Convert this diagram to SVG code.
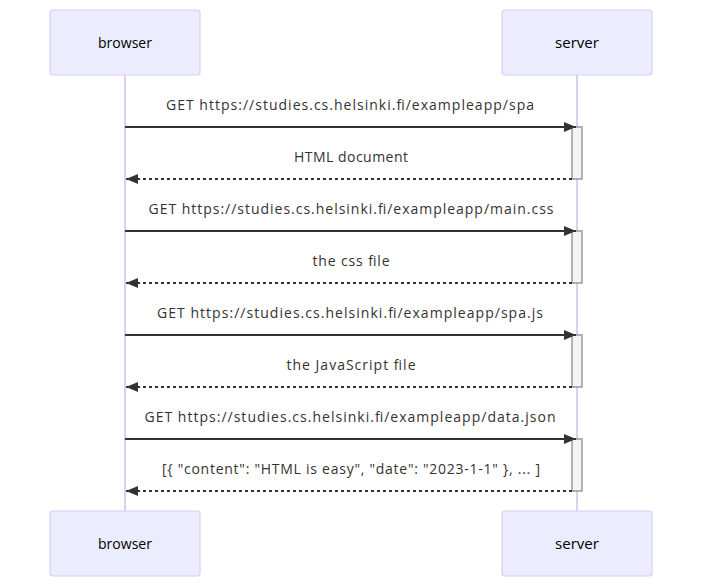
<svg xmlns="http://www.w3.org/2000/svg" width="702" height="587" viewBox="0 0 702 587">
<style>
.actor{fill:#ECECFF;stroke:#DACEF3;stroke-width:1.2}
.atext{font-family:"Open Sans","Noto Sans",sans-serif;font-size:14px;fill:#000;text-anchor:middle}
.life{stroke:#DACEF3;stroke-width:2;fill:none}
.act{fill:#F4F4F4;stroke:#999;stroke-width:1.5}
.msg{stroke:#333;stroke-width:2;fill:none}
.ret{stroke:#333;stroke-width:2;fill:none;stroke-dasharray:3,3}
.mtext{font-family:"Open Sans","Noto Sans",sans-serif;font-size:14px;fill:#333;text-anchor:middle}
</style>
<defs>
<marker id="arrow" markerUnits="userSpaceOnUse" markerWidth="12" markerHeight="10" refX="12" refY="5" orient="auto">
<path d="M0,0 L12,5 L0,10 z" fill="#333"/>
</marker>
</defs>
<rect width="702" height="587" fill="#fff"/>
<g id="lifelines">
<line class="life" x1="125" y1="75" x2="125" y2="511"/>
<line class="life" x1="577" y1="75" x2="577" y2="511"/>
</g>
<g id="browser-top"><rect class="actor" x="50" y="10" width="150" height="65" rx="3"/><text class="atext" x="125" y="47.5" textLength="54" lengthAdjust="spacingAndGlyphs">browser</text></g>
<g id="server-top"><rect class="actor" x="502" y="10" width="150" height="65" rx="3"/><text class="atext" x="577" y="47.5" textLength="44" lengthAdjust="spacingAndGlyphs">server</text></g>
<g id="browser-bottom"><rect class="actor" x="50" y="511" width="150" height="65" rx="3"/><text class="atext" x="125" y="548.5" textLength="54" lengthAdjust="spacingAndGlyphs">browser</text></g>
<g id="server-bottom"><rect class="actor" x="502" y="511" width="150" height="65" rx="3"/><text class="atext" x="577" y="548.5" textLength="44" lengthAdjust="spacingAndGlyphs">server</text></g>
<g id="activations">
<rect class="act" x="572" y="127" width="10" height="52"/>
<rect class="act" x="572" y="231" width="10" height="52"/>
<rect class="act" x="572" y="335" width="10" height="52"/>
<rect class="act" x="572" y="439" width="10" height="52"/>
</g>
<g id="connectors">
<line class="msg" x1="125" y1="127" x2="576" y2="127" marker-end="url(#arrow)"/>
<line class="ret" x1="572" y1="179" x2="126" y2="179" marker-end="url(#arrow)"/>
<line class="msg" x1="125" y1="231" x2="576" y2="231" marker-end="url(#arrow)"/>
<line class="ret" x1="572" y1="283" x2="126" y2="283" marker-end="url(#arrow)"/>
<line class="msg" x1="125" y1="335" x2="576" y2="335" marker-end="url(#arrow)"/>
<line class="ret" x1="572" y1="387" x2="126" y2="387" marker-end="url(#arrow)"/>
<line class="msg" x1="125" y1="439" x2="576" y2="439" marker-end="url(#arrow)"/>
<line class="ret" x1="572" y1="491" x2="126" y2="491" marker-end="url(#arrow)"/>
</g>
<g id="labels">
<text class="mtext" x="350" y="110" textLength="368" lengthAdjust="spacing">GET https://studies.cs.helsinki.fi/exampleapp/spa</text>
<text class="mtext" x="351" y="162" textLength="114" lengthAdjust="spacing">HTML document</text>
<text class="mtext" x="351" y="214" textLength="405" lengthAdjust="spacing">GET https://studies.cs.helsinki.fi/exampleapp/main.css</text>
<text class="mtext" x="351" y="266" textLength="77" lengthAdjust="spacing">the css file</text>
<text class="mtext" x="350" y="318" textLength="386" lengthAdjust="spacing">GET https://studies.cs.helsinki.fi/exampleapp/spa.js</text>
<text class="mtext" x="351" y="370" textLength="129" lengthAdjust="spacing">the JavaScript file</text>
<text class="mtext" x="350" y="422" textLength="411" lengthAdjust="spacing">GET https://studies.cs.helsinki.fi/exampleapp/data.json</text>
<text class="mtext" x="351" y="474" textLength="378" lengthAdjust="spacing">[{ "content": "HTML is easy", "date": "2023-1-1" }, ... ]</text>
</g>
</svg>
